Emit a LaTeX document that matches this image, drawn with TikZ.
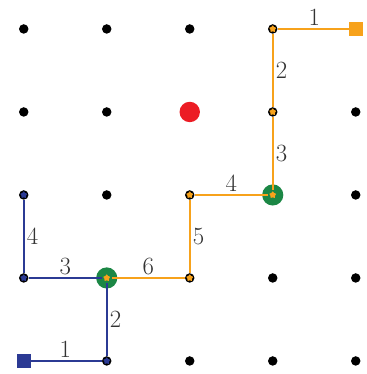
\documentclass[tikz,border=0pt]{standalone}
\usetikzlibrary{shapes.geometric, positioning}
\definecolor{walkorange}{HTML}{F7A21B}
\definecolor{walkblue}{HTML}{2B3A94}
\definecolor{meetgreen}{HTML}{1B8745}
\definecolor{goalred}{HTML}{EC1C24}

\begin{document}
\begin{tikzpicture}[
    x=2cm, y=2cm,
    every node/.style={font=\fontsize{17}{19}\selectfont, text=black!80},
    griddot/.style={circle, fill=black, inner sep=0pt, minimum size=6.5pt},
    startbox/.style={rectangle, inner sep=0pt, minimum size=9.5pt},
    meetdot/.style={circle, fill=meetgreen, inner sep=0pt, minimum size=14.5pt},
    goaldot/.style={circle, fill=goalred, inner sep=0pt, minimum size=14pt},
    tick/.style={star, star points=5, inner sep=0pt, minimum size=5pt},
    walk/.style={line width=1.35pt},
    steplabel/.style={midway, inner sep=1.5pt}
]
\useasboundingbox (-0.286,-0.157) rectangle (4.131,4.349);

% grid of dots
\foreach \i in {0,...,4}
  \foreach \j in {0,...,4}
    \node[griddot] (p-\i-\j) at (\i,\j) {};

% special cells
\node[goaldot] (goal) at (p-2-3) {};
\node[meetdot] (meetA) at (p-3-2) {};
\node[meetdot] (meetB) at (p-1-1) {};

% orange walk
\draw[walk, walkorange] (p-4-4) -- node[steplabel, above] {1} (p-3-4)
  -- node[steplabel, right] {2} (p-3-3)
  -- node[steplabel, right] {3} (p-3-2)
  -- node[steplabel, above] {4} (p-2-2)
  -- node[steplabel, right] {5} (p-2-1)
  -- node[steplabel, above] {6} (p-1-1);
\node[startbox, fill=walkorange] (startO) at (p-4-4) {};

% blue walk
\draw[walk, walkblue] (p-0-0) -- node[steplabel, above] {1} (p-1-0)
  -- node[steplabel, right] {2} (p-1-1)
  -- node[steplabel, above] {3} (p-0-1)
  -- node[steplabel, right] {4} (p-0-2);
\node[startbox, fill=walkblue] (startB) at (p-0-0) {};

% visited cells
\foreach \c in {3-4, 3-3, 3-2, 2-2, 2-1, 1-1}
  \node[tick, fill=walkorange] (o-\c) at (p-\c) {};
\foreach \c in {1-0, 0-1, 0-2}
  \node[tick, fill=walkblue] (b-\c) at (p-\c) {};
\end{tikzpicture}
\end{document}
